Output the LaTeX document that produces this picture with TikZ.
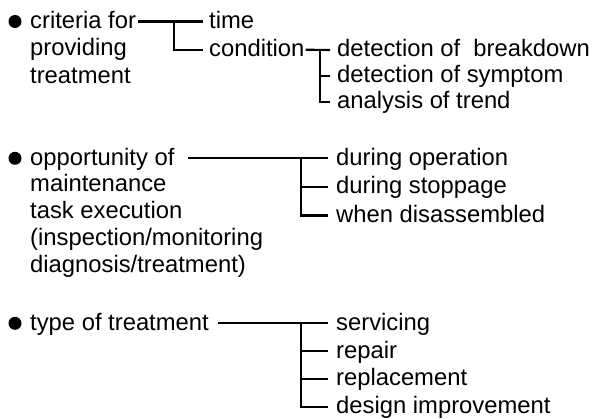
\documentclass[tikz,border=0pt]{standalone}
\usepackage{fontspec}
\setmainfont{Liberation Sans}
\begin{document}
\begin{tikzpicture}[x=1pt,y=-1pt,
  lbl/.style={anchor=base west, inner sep=0pt, font=\fontsize{23.8}{27}\selectfont},
  wire/.style={line width=2.1pt},
  dot/.style={circle, fill=black, inner sep=0pt, minimum size=13pt}]
\useasboundingbox (0,0) rectangle (593,419);
% connectors sit 6.8pt above the text baseline
\def\lift{6.8pt}

% --- criteria for providing treatment ---
\node[dot] (b1) at (15,21.5) {};
\node[lbl] (crit) at (30,28.3) {criteria for};
\node[lbl] (crit2) at (30,55.8) {providing};
\node[lbl] (crit3) at (30,83.3) {treatment};
\node[lbl] (time) at (209,28.3) {time};
\node[lbl] (cond) at (209,56.5) {condition};
\node[lbl] (det1) at (337,56.8) {detection of\ \ breakdown};
\node[lbl] (det2) at (337,82.8) {detection of symptom};
\node[lbl] (det3) at (337,108.8) {analysis of trend};
\coordinate (j1) at (174,21.5);
\coordinate (j2) at (320,50);
\coordinate (e1) at ([xshift=-6pt,yshift=\lift]time.base west);
\coordinate (e2) at ([xshift=-6pt,yshift=\lift]cond.base west);
\coordinate (e3) at ([xshift=-7pt,yshift=\lift]det1.base west);
\coordinate (e4) at ([xshift=-7pt,yshift=\lift]det2.base west);
\coordinate (e5) at ([xshift=-7pt,yshift=\lift]det3.base west);
\draw[wire] ([xshift=2pt,yshift=\lift]crit.base east) -- (e1);
\draw[wire] (j1) |- (e2);
\draw[wire] ([xshift=1pt,yshift=\lift]cond.base east) -- (e3);
\draw[wire] (j2) |- (e5);
\draw[wire] (j2 |- e4) -- (e4);

% --- opportunity of maintenance task execution ---
\node[dot] (b2) at (15,158.3) {};
\node[lbl] (opp) at (30,165.1) {opportunity of};
\node[lbl] (opp2) at (30,191.9) {maintenance};
\node[lbl] (opp3) at (30,218.7) {task execution};
\node[lbl] (opp4) at (30,245.5) {(inspection/monitoring};
\node[lbl] (opp5) at (30,272.3) {diagnosis/treatment)};
\node[lbl] (op1) at (336,165.1) {during operation};
\node[lbl] (op2) at (336,193.6) {during stoppage};
\node[lbl] (op3) at (336,222.3) {when disassembled};
\coordinate (j3) at (300.7,158.3);
\coordinate (f1) at ([xshift=-8pt,yshift=\lift]op1.base west);
\coordinate (f2) at ([xshift=-8pt,yshift=\lift]op2.base west);
\coordinate (f3) at ([xshift=-8pt,yshift=\lift]op3.base west);
\draw[wire] ([xshift=13pt,yshift=\lift]opp.base east) -- (f1);
\draw[wire] (j3) |- (f3);
\draw[wire] (j3 |- f2) -- (f2);

% --- type of treatment ---
\node[dot] (b3) at (15,323.3) {};
\node[lbl] (type) at (30,330.1) {type of treatment};
\node[lbl] (tr1) at (336,330.1) {servicing};
\node[lbl] (tr2) at (336,358) {repair};
\node[lbl] (tr3) at (336,385.8) {replacement};
\node[lbl] (tr4) at (336,413.5) {design improvement};
\coordinate (j4) at (300.7,323.3);
\coordinate (g1) at ([xshift=-8pt,yshift=\lift]tr1.base west);
\coordinate (g2) at ([xshift=-8pt,yshift=\lift]tr2.base west);
\coordinate (g3) at ([xshift=-8pt,yshift=\lift]tr3.base west);
\coordinate (g4) at ([xshift=-8pt,yshift=\lift]tr4.base west);
\draw[wire] ([xshift=9pt,yshift=\lift]type.base east) -- (g1);
\draw[wire] (j4) |- (g4);
\draw[wire] (j4 |- g2) -- (g2);
\draw[wire] (j4 |- g3) -- (g3);
\end{tikzpicture}
\end{document}
